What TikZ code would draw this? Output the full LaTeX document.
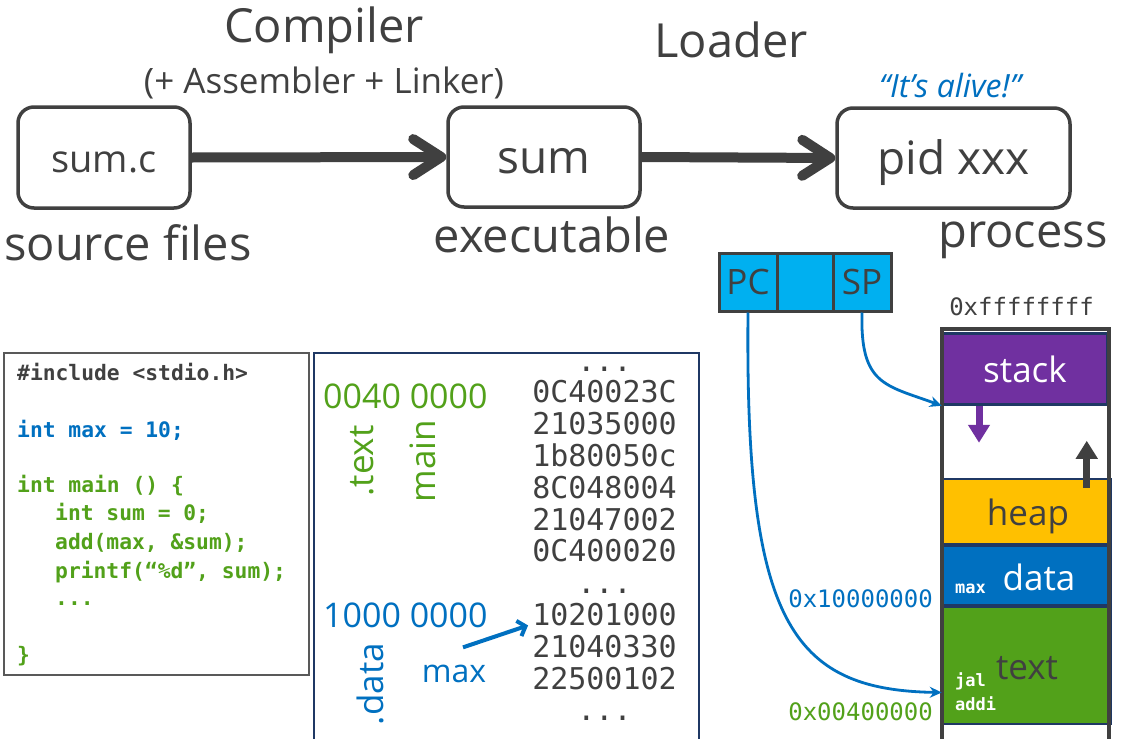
\documentclass[tikz,border=0pt]{standalone}
\usepackage{fontspec}
\setmainfont{Open Sans}
\newfontfamily\codefont{DejaVu Sans Mono}
\usepackage{tikz}
\usetikzlibrary{arrows.meta,positioning}

\definecolor{inkgray}{HTML}{404040}
\definecolor{codeblue}{HTML}{0070C0}
\definecolor{codegreen}{HTML}{52A11A}
\definecolor{stackpurple}{HTML}{7030A0}
\definecolor{heapyellow}{HTML}{FFC000}
\definecolor{regcyan}{HTML}{00B0F0}
\definecolor{segnavy}{HTML}{1F3864}
\definecolor{framegray}{HTML}{595959}

\newcommand{\sizept}[1]{\fontsize{#1}{#1}\selectfont}
\newcommand{\hexgap}{...}

\tikzset{
  stagebox/.style={draw=inkgray, line width=3.5pt, rounded corners=16pt, inner sep=0pt,
    text=inkgray, text height=32pt, text depth=0pt},
  flowarrow/.style={draw=inkgray, line width=10pt, -{Straight Barb[length=28pt,width=36pt,round]}},
  bigtext/.style={anchor=base, inner sep=0pt, text=inkgray, font=\sizept{47}},
  codeline/.style={anchor=base west, inner sep=0pt, font=\codefont\bfseries\sizept{21.3}},
  hexline/.style={anchor=base, inner sep=0pt, text=inkgray, font=\codefont\sizept{30}},
  sectext/.style={rotate=90, inner sep=0pt, font=\sizept{35}},
  regcell/.style={draw=inkgray, fill=regcyan, line width=3pt, minimum height=58pt,
    inner sep=0pt, text=inkgray, font=\sizept{35}},
  memseg/.style={draw=segnavy, line width=2.5pt, inner sep=0pt},
  seglabel/.style={anchor=base, inner sep=0pt, font=\sizept{35}},
  segsym/.style={anchor=base west, inner sep=0pt, text=white, font=\codefont\bfseries\sizept{17}},
  addrtext/.style={anchor=base east, inner sep=0pt, font=\codefont\sizept{24}},
  ptrarrow/.style={draw=codeblue, line width=2.8pt, -{Stealth[length=12pt,width=11pt]}},
  growarrow/.style={line width=7pt, -{Triangle[length=18pt,width=21pt]}},
}

\begin{document}
\begin{tikzpicture}[x=1pt, y=-1pt]
    \path[use as bounding box, clip] (0,0) rectangle (1125,739);
    \fill[white] (0,0) rectangle (1125,739);

    % build chain
    \node[stagebox, minimum width=172pt, minimum height=101pt, font=\sizept{38}, text height=29pt] (src) at (104,157.5) {sum.c};
    \node[stagebox, minimum width=192pt, minimum height=100pt, font=\sizept{46}] (exe) at (544,157) {sum};
    \node[stagebox, minimum width=233pt, minimum height=100pt, font=\sizept{46}, text height=33pt] (proc) at (953.5,158) {pid xxx};

    \draw[flowarrow] (src.east) -- (exe.west);
    \draw[flowarrow] (exe.east) -- (proc.west);

    \node[bigtext] (compiler) at (324,42) {Compiler};
    \node[bigtext, font=\sizept{35}] (toolchain) at (324,93) {(+ Assembler + Linker)};
    \node[bigtext] (loader) at (731,57) {Loader};
    \node[bigtext, text=codeblue, font=\itshape\sizept{32}] (alive) at (950,97) {“It’s alive!”};

    \node[bigtext] (srclabel) at (128,260) {source files};
    \node[bigtext] (exelabel) at (552,252) {executable};
    \node[bigtext] (proclabel) at (1023,247) {process};

    % source code
    \node[draw=framegray, line width=2pt, minimum width=305pt, minimum height=322pt, inner sep=0pt] (codebox) at (156.5,514) {};
    \node[codeline, text=inkgray] (inc) at (17,380) {\#include <stdio.h>};
    \node[codeline, text=codeblue] (maxdecl) at (17,437) {int max = 10;};
    \node[codeline, text=codegreen] (mainhead) at (17,492) {int main () \{};
    \node[codeline, text=codegreen] (sumdecl) at (55,520) {int sum = 0;};
    \node[codeline, text=codegreen] (addcall) at (55,549) {add(max, \&sum);};
    \node[codeline, text=codegreen] (printcall) at (55,578) {printf(“\%d”, sum);};
    \node[codeline, text=codegreen] (codedots) at (55,605) {...};
    \node[codeline, text=codegreen] (closebrace) at (17,662) {\}};

    % executable image
    \node[draw=segnavy, line width=2pt, minimum width=385pt, minimum height=400pt, inner sep=0pt] (objbox) at (506.5,553) {};
    \node[anchor=base west, inner sep=0pt, text=codegreen, font=\sizept{34}] (textaddr) at (323,408) {0040 0000};
    \node[anchor=base west, inner sep=0pt, text=codeblue, font=\sizept{34}] (dataaddr) at (323,627) {1000 0000};
    \node[sectext, text=codegreen] (textsec) at (362,461) {.text};
    \node[sectext, text=codegreen] (mainsym) at (423,461) {main};
    \node[sectext, text=codeblue] (datasec) at (370,684) {.data};
    \node[anchor=base, inner sep=0pt, text=codeblue, font=\sizept{32}] (maxsym) at (454,682) {max};

    \foreach \hexword [count=\row from 0] in {{\hexgap},0C40023C,21035000,1b80050c,8C048004,21047002,0C400020,{\hexgap},10201000,21040330,22500102,{\hexgap}}
        \node[hexline] (hex\row) at (604.5,371+31.8*\row) {\hexword};

    \draw[codeblue, line width=4pt, -{Straight Barb[length=7pt,width=16pt]}] ([xshift=9pt,yshift=17pt]maxsym.north) -- ([xshift=-4pt]hex8.base west);

    % registers
    \node[regcell, minimum width=58pt] (pc) at (748,282) {PC};
    \node[regcell, minimum width=56pt] (gpr) at (805,282) {};
    \node[regcell, minimum width=58pt] (sp) at (862,282) {SP};

    % address space
    \node[memseg, fill=stackpurple, minimum width=164pt, minimum height=71pt] (stack) at (1025,369) {};
    \node[memseg, fill=heapyellow, minimum width=167.5pt, minimum height=65pt] (heap) at (1026.75,511.5) {};
    \node[memseg, fill=codeblue, minimum width=167.5pt, minimum height=60pt] (data) at (1026.75,575.5) {};
    \node[memseg, fill=codegreen, minimum width=167.5pt, minimum height=117pt] (textseg) at (1026.75,665.5) {};
    \draw[inkgray, line width=4pt] (942,760) |- (1109,329) -- (1109,760);

    \node[seglabel, text=white] (stacklabel) at (1025,382) {stack};
    \node[seglabel, text=inkgray] (heaplabel) at (1028,525) {heap};
    \node[seglabel, text=white] (datalabel) at (1039,590) {data};
    \node[seglabel, text=inkgray] (textlabel) at (1027,679) {text};
    \node[segsym] (maxvar) at (955,593) {max};
    \node[segsym] (jalop) at (955,686) {jal};
    \node[segsym] (addiop) at (955,710) {addi};

    \draw[growarrow, stackpurple] ([xshift=-46pt]stack.south) -- ++(0,37);
    \draw[growarrow, inkgray] ([xshift=60pt,yshift=-10pt]heap.north) -- ++(0,-47);

    \node[anchor=base, inner sep=0pt, text=inkgray, font=\codefont\sizept{24}] (topaddr) at (1021.5,315) {0xffffffff};
    \node[addrtext, text=codeblue] (database) at (933,607) {0x10000000};
    \node[addrtext, text=codegreen] (textbase) at (933,720) {0x00400000};

    % PC and SP pointers
    \draw[ptrarrow] (sp.south) .. controls (860,385) and (885,385) .. (stack.south west);
    \draw[ptrarrow] (pc.south) .. controls (745,620) and (790,690) .. ([yshift=-27pt]textseg.west);
\end{tikzpicture}
\end{document}
